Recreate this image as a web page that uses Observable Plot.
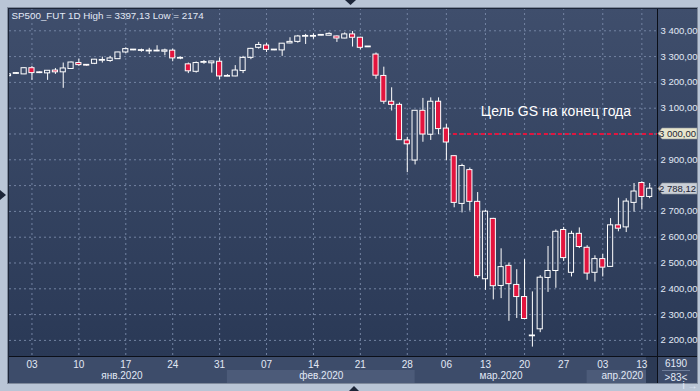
<!DOCTYPE html>
<html><head><meta charset="utf-8">
<script src="https://cdn.jsdelivr.net/npm/d3@7"></script>
<script src="https://cdn.jsdelivr.net/npm/@observablehq/plot@0.6"></script>
<style>html,body{margin:0;padding:0;background:#b9c5d6;overflow:hidden}#chart{width:700px;height:391px}</style>
</head><body><div id="chart"></div>
<script>
// ---- data ----
const opens  = [3224,3233,3231,3255,3237,3235,3246,3239,3252,3275,3266,3272,3284,3283,3290,3316,3325,3322,3320,3320,3319,3323,3292,3270,3241,3276,3274,3280,3222,3223,3244,3295,3334,3343,3325,3324,3351,3357,3377,3377,3381,3381,3378,3370,3386,3373,3337,3308,3225,3125,3113,2975,2897,3090,2997,3125,3021,2914,2729,2860,2737,2437,2671,2411,2489,2415,2368,2216,2243,2442,2469,2628,2462,2613,2559,2462,2515,2485,2646,2638,2733,2810,2756];
const highs  = [3233,3238,3257,3262,3241,3246,3254,3275,3279,3290,3269,3289,3298,3301,3317,3334,3326,3329,3332,3342,3329,3329,3298,3275,3279,3285,3282,3295,3230,3265,3301,3332,3355,3352,3326,3351,3373,3382,3386,3388,3383,3392,3380,3392,3397,3375,3338,3314,3259,3179,3120,2987,3091,3138,3140,3140,3037,2916,2883,2868,2773,2704,2673,2555,2500,2474,2513,2388,2451,2564,2628,2638,2623,2636,2567,2528,2533,2672,2751,2749,2808,2815,2808];
const lows   = [3222,3231,3230,3208,3234,3208,3231,3177,3250,3262,3262,3269,3275,3278,3289,3311,3323,3317,3308,3319,3303,3280,3288,3234,3236,3270,3236,3210,3222,3222,3234,3288,3329,3316,3323,3301,3350,3352,3347,3367,3380,3380,3355,3369,3337,3326,3335,3212,3115,3089,2975,2850,2880,2968,2975,2997,2896,2714,2694,2701,2441,2394,2357,2362,2274,2285,2281,2174,2230,2386,2402,2506,2446,2556,2433,2426,2446,2484,2621,2618,2697,2708,2749];
const closes = [3231,3234,3255,3236,3236,3245,3239,3254,3277,3267,3265,3288,3285,3293,3316,3329,3324,3323,3321,3321,3324,3293,3293,3243,3275,3277,3281,3223,3223,3246,3295,3330,3345,3326,3324,3350,3357,3378,3378,3378,3382,3388,3370,3386,3373,3334,3336,3226,3125,3113,2976,2960,3090,2998,3125,3019,2967,2733,2876,2737,2449,2699,2410,2484,2418,2368,2283,2218,2443,2469,2621,2519,2613,2562,2459,2515,2482,2646,2633,2738,2777,2756,2788.12];

const tickIdx    = [3,9,15,21,27,33,39,45,51,56,61,66,71,76,81];
const tickLabels = ["03","10","17","24","31","07","14","21","28","06","13","20","27","03","13"];
const monthStart  = [1,28,52,74];
const monthLabels = ["янв.2020","фев.2020","мар.2020","апр.2020"];
const yTicks = [2200,2300,2400,2500,2600,2700,2800,2900,3000,3100,3200,3300,3400];

const titleText = "SP500_FUT 1D High = 3397,13 Low = 2174";
const goalValue = 3000;
const goalStartIdx = 56.9;
const goalText = "Цель GS на конец года";
const goalTextIdx = 60.4;
const goalTextValue = 3087;
const lastPrice = 2788.12;
const barsTotal = "6190";
const barsShown = ">83<";

// ---- styling ----
const RED = "#e3143e";
const TXT = "#e2e9f6";
const GRID = "#7383a2";
const FONT = "'Liberation Sans', Arial, sans-serif";
const W = 700, H = 391, L = 9, T = 8, R = 657, B = 356;

const data = opens.map((o, i) => ({i, o, h: highs[i], l: lows[i], c: closes[i]}));
const fmt = v => {
  const s = v.toFixed(2).replace(".", ",");
  const [ip, fp] = s.split(",");
  return (ip.length > 3 ? ip.slice(0, ip.length - 3) + " " + ip.slice(-3) : ip) + "," + fp;
};
// axis labels hidden behind the price tags are not drawn
const axisTicks = yTicks.filter(v => Math.abs(v - goalValue) > 30 && Math.abs(v - lastPrice) > 30);

const plot = Plot.plot({
  width: W, height: H,
  marginLeft: L, marginRight: W - R, marginTop: T, marginBottom: H - B,
  style: {background: "transparent", fontFamily: FONT, overflow: "visible"},
  x: {domain: [0.128, 83.0], axis: null},
  y: {domain: [2137.6, 3486.4], axis: null},
  marks: [
    Plot.gridY(yTicks, {stroke: GRID, strokeOpacity: 1, strokeDasharray: "2,3"}),
    Plot.gridX(tickIdx, {stroke: GRID, strokeOpacity: 1, strokeDasharray: "2,3"}),
    Plot.ruleX(data, {x: "i", y1: d => Math.max(d.o, d.c), y2: "h", stroke: "white", strokeWidth: 1, clip: true}),
    Plot.ruleX(data, {x: "i", y1: "l", y2: d => Math.min(d.o, d.c), stroke: "white", strokeWidth: 1, clip: true}),
    Plot.rect(data, {
      x1: d => d.i - 0.33, x2: d => d.i + 0.33,
      y1: d => Math.min(d.o, d.c),
      y2: d => Math.max(d.o, d.c, Math.min(d.o, d.c) + 3),
      fill: d => d.c < d.o ? RED : "none", stroke: "white", strokeWidth: 1, clip: true
    }),
    Plot.ruleY([goalValue], {x1: goalStartIdx, x2: 83.0, stroke: RED, strokeWidth: 2, strokeDasharray: "4,3"}),
    Plot.text([goalText], {x: goalTextIdx, y: goalTextValue, textAnchor: "start", fill: "white", fontSize: 14, fontFamily: FONT}),
    Plot.text([titleText], {frameAnchor: "top-left", dx: 2, dy: 7, lineAnchor: "middle", fill: TXT, fontSize: 9.8, fontFamily: FONT}),
    Plot.axisY(axisTicks, {anchor: "right", tickSize: 0, tickPadding: 3, tickFormat: fmt, color: TXT, fontSize: 9.5, fontFamily: FONT}),
    Plot.axisX(tickIdx, {anchor: "bottom", tickSize: 0, tickPadding: 4, tickFormat: d => tickLabels[tickIdx.indexOf(d)], color: TXT, fontSize: 10, fontFamily: FONT}),
    Plot.text(monthLabels, {x: (d, k) => ((monthStart[k]) + (monthStart[k + 1] ?? 83.0)) / 2, frameAnchor: "bottom", dy: 19, lineAnchor: "middle", fill: TXT, fontSize: 10, fontFamily: FONT})
  ]
});

document.getElementById("chart").appendChild(plot);
const svg = d3.select(plot);
const xs = plot.scale("x"), ys = plot.scale("y");

// background layers
const defs = svg.insert("defs", ":first-child");
const grad = defs.append("linearGradient").attr("id", "bg").attr("x1", 0).attr("y1", 0).attr("x2", 0).attr("y2", 1);
grad.append("stop").attr("offset", "0%").attr("stop-color", "#3f4e6c");
grad.append("stop").attr("offset", "100%").attr("stop-color", "#2a3956");
const bgG = svg.insert("g", "defs + *");
bgG.append("rect").attr("x", 0).attr("y", 0).attr("width", W).attr("height", H).attr("fill", "#b9c5d6");
bgG.append("rect").attr("x", 7.5).attr("y", 7.5).attr("width", 690).attr("height", 376).attr("fill", "none").attr("stroke", "#7f8a9c");
bgG.append("rect").attr("x", 8).attr("y", 8).attr("width", 689).attr("height", B - 8).attr("fill", "url(#bg)");
bgG.append("rect").attr("x", 8).attr("y", B).attr("width", 689).attr("height", 27).attr("fill", "#3d4c6a");
monthStart.forEach((s, k) => {
  if (k % 2 === 1) {
    const x1 = xs.apply(s), x2 = Math.min(xs.apply(monthStart[k + 1] ?? 83.0), R);
    bgG.append("rect").attr("x", x1).attr("y", 370).attr("width", x2 - x1).attr("height", 13).attr("fill", "#4c5b79");
  }
});
bgG.append("rect").attr("x", 646).attr("y", B).attr("width", R - 646).attr("height", 27).attr("fill", "#2c3a55");

// foreground decorations
const fg = svg.append("g");
fg.append("line").attr("x1", 8).attr("x2", 697).attr("y1", B + 0.5).attr("y2", B + 0.5).attr("stroke", "#0b0f18");
fg.append("line").attr("x1", R + 0.5).attr("x2", R + 0.5).attr("y1", 8).attr("y2", 383).attr("stroke", "#0b0f18");
fg.append("line").attr("x1", 8.5).attr("x2", 8.5).attr("y1", 8).attr("y2", 383).attr("stroke", "#1c2538");
fg.append("line").attr("x1", 8).attr("x2", 697).attr("y1", 8.5).attr("y2", 8.5).attr("stroke", "#1c2538");
fg.append("line").attr("x1", 662).attr("x2", 690).attr("y1", 370.5).attr("y2", 370.5).attr("stroke", "#6d7c99");
fg.append("text").attr("x", 676).attr("y", 363).attr("text-anchor", "middle").attr("dominant-baseline", "central")
  .attr("fill", TXT).attr("font-size", 10).attr("font-family", FONT).text(barsTotal);
fg.append("text").attr("x", 676).attr("y", 377).attr("text-anchor", "middle").attr("dominant-baseline", "central")
  .attr("fill", TXT).attr("font-size", 10).attr("font-family", FONT).text(barsShown);

function tag(value, fill) {
  const y = Math.round(ys.apply(value)) + 0.5;
  fg.append("path").attr("d", `M${R + 1},${y} L${R + 5},${y - 5.5} L697,${y - 5.5} L697,${y + 5.5} L${R + 5},${y + 5.5} Z`)
    .attr("fill", fill).attr("stroke", "#8e939a").attr("stroke-width", 0.6);
  fg.append("text").attr("x", 696).attr("y", y + 3.3).attr("text-anchor", "end")
    .attr("fill", "#1e2533").attr("font-size", 9.5).attr("font-family", FONT).text(fmt(value));
}
tag(goalValue, "#e7e5cd");
tag(lastPrice, "#cbd0d7");

// small scroll markers
fg.append("path").attr("d", "M345,0 L356,0 L350.5,5 Z").attr("fill", "#1c2538");
fg.append("path").attr("d", "M349,391 L359,391 L354,386 Z").attr("fill", "#1c2538");
fg.append("path").attr("d", "M0,190 L0,200 L6,195 Z").attr("fill", "#1c2538");
</script></body></html>
